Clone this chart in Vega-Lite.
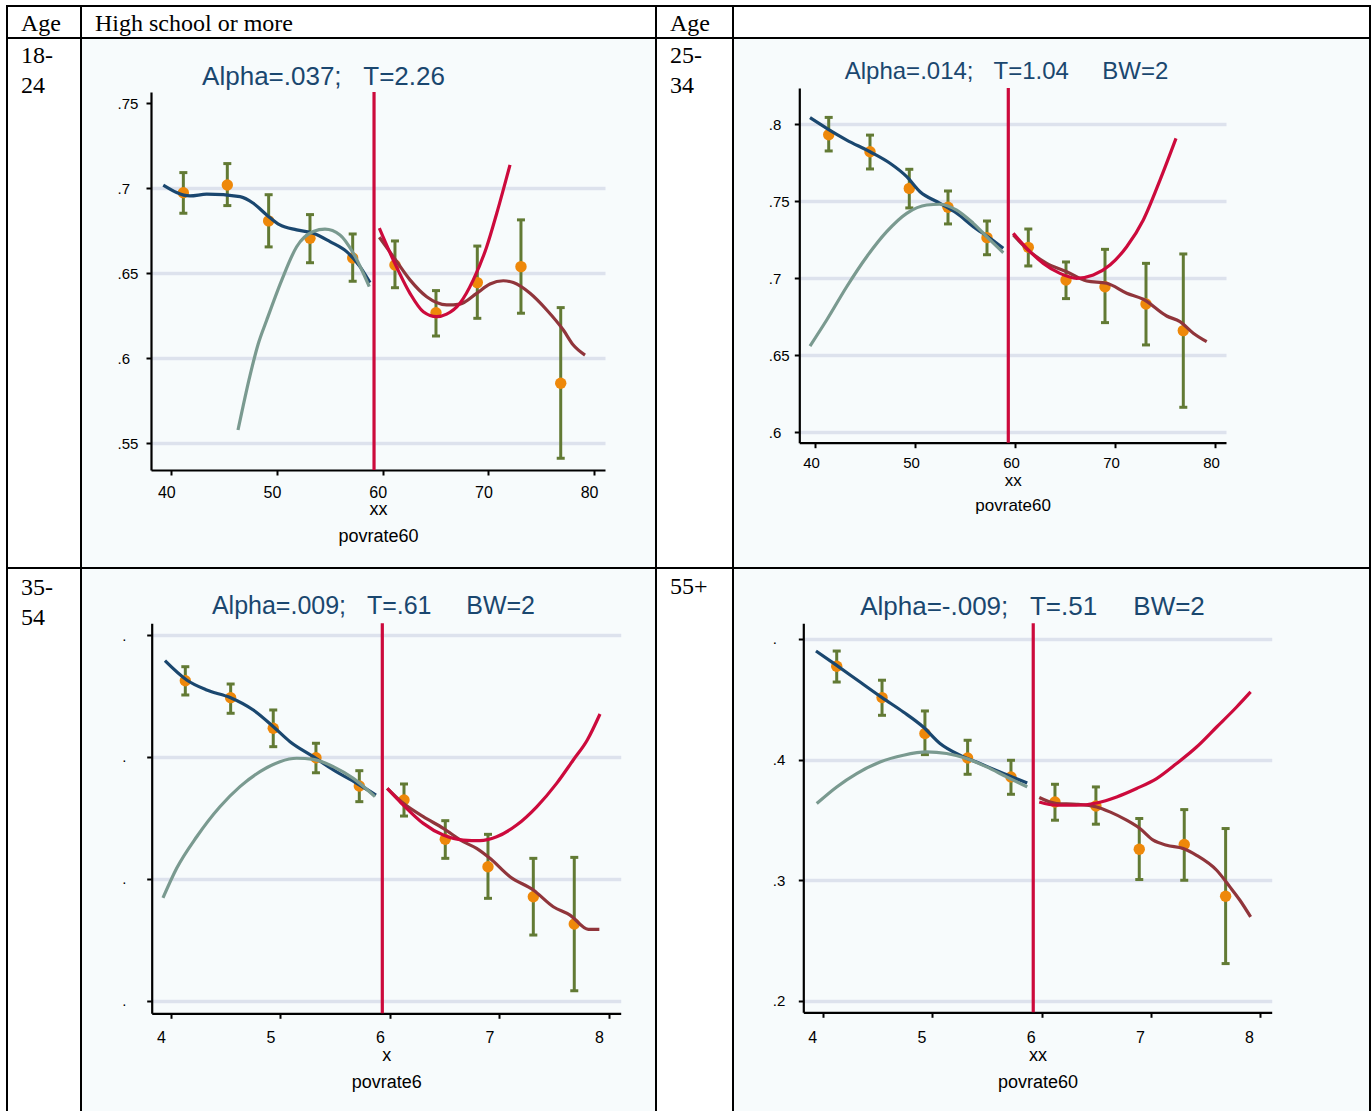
{
  "$schema": "https://vega.github.io/schema/vega-lite/v6.json",
  "background": "white",
  "padding": {"left": 6, "top": 5, "right": 0, "bottom": 0},
  "config": {
    "view": {"stroke": "black", "strokeWidth": 2},
    "axis": {
      "domainColor": "black", "domainWidth": 2.2, "tickColor": "black", "tickWidth": 2, "tickSize": 5,
      "labelFont": "Liberation Sans", "labelColor": "black", "labelFlush": false, "labelOverlap": false, "labelBound": false,
      "titleFont": "Liberation Sans", "titleFontWeight": "normal", "titleColor": "black",
      "grid": false, "gridColor": "#dde2ed", "gridWidth": 3.5, "gridOpacity": 1
    },
    "axisY": {"labelAlign": "left", "labelBaseline": "middle"},
    "title": {"font": "Liberation Serif", "fontWeight": "normal", "color": "black", "fontSize": 24, "anchor": "start", "frame": "group", "orient": "top", "align": "left", "dx": 14, "lineHeight": 30, "baseline": "top"}
  },
  "datasets": {
    "cellpt": [{"u": 0.5}],
    "pts1": [
      {"x": 41.14, "y": 0.6974}, {"x": 45.30, "y": 0.7019}, {"x": 49.21, "y": 0.6808}, {"x": 53.12, "y": 0.6706}, {"x": 57.16, "y": 0.6590},
      {"x": 61.16, "y": 0.6549}, {"x": 65.04, "y": 0.6268}, {"x": 68.95, "y": 0.6445}, {"x": 73.08, "y": 0.6539}, {"x": 76.84, "y": 0.5853}
    ],
    "b1": [
      {"x": 41.14, "y": 0.6853, "y2": 0.7092}, {"x": 45.30, "y": 0.6898, "y2": 0.7145}, {"x": 49.21, "y": 0.6655, "y2": 0.6962},
      {"x": 53.12, "y": 0.6562, "y2": 0.6845}, {"x": 57.16, "y": 0.6453, "y2": 0.6731}, {"x": 61.16, "y": 0.6415, "y2": 0.6690},
      {"x": 65.04, "y": 0.6131, "y2": 0.6398}, {"x": 68.95, "y": 0.6235, "y2": 0.6660}, {"x": 73.08, "y": 0.6265, "y2": 0.6814},
      {"x": 76.84, "y": 0.5412, "y2": 0.6298}
    ],
    "l1": [
      {"s": "navy", "x": 39.24, "y": 0.7019}, {"s": "navy", "x": 41.77, "y": 0.6955}, {"s": "navy", "x": 43.35, "y": 0.6965},
      {"s": "navy", "x": 46.50, "y": 0.6951}, {"s": "navy", "x": 47.76, "y": 0.6912}, {"s": "navy", "x": 49.03, "y": 0.6843},
      {"s": "navy", "x": 50.28, "y": 0.6784}, {"s": "navy", "x": 51.86, "y": 0.6755}, {"s": "navy", "x": 53.43, "y": 0.6735},
      {"s": "navy", "x": 55.01, "y": 0.6686}, {"s": "navy", "x": 56.59, "y": 0.6627}, {"s": "navy", "x": 57.85, "y": 0.6539},
      {"s": "navy", "x": 58.80, "y": 0.6445},
      {"s": "gray", "x": 46.31, "y": 0.5578}, {"s": "gray", "x": 47.45, "y": 0.590}, {"s": "gray", "x": 48.2, "y": 0.608},
      {"s": "gray", "x": 49.03, "y": 0.6225}, {"s": "gray", "x": 50.45, "y": 0.646}, {"s": "gray", "x": 51.86, "y": 0.6656},
      {"s": "gray", "x": 53.43, "y": 0.6745}, {"s": "gray", "x": 54.54, "y": 0.6759}, {"s": "gray", "x": 55.96, "y": 0.6725},
      {"s": "gray", "x": 57.22, "y": 0.6618}, {"s": "gray", "x": 58.73, "y": 0.6421},
      {"s": "maroon", "x": 59.68, "y": 0.6712}, {"s": "maroon", "x": 61.0, "y": 0.6598}, {"s": "maroon", "x": 62.58, "y": 0.6461},
      {"s": "maroon", "x": 64.16, "y": 0.6362}, {"s": "maroon", "x": 66.05, "y": 0.6314}, {"s": "maroon", "x": 67.31, "y": 0.6319},
      {"s": "maroon", "x": 68.89, "y": 0.6382}, {"s": "maroon", "x": 70.15, "y": 0.6437}, {"s": "maroon", "x": 71.41, "y": 0.6456},
      {"s": "maroon", "x": 72.36, "y": 0.6445}, {"s": "maroon", "x": 73.94, "y": 0.6382}, {"s": "maroon", "x": 75.52, "y": 0.6284},
      {"s": "maroon", "x": 77.09, "y": 0.6166}, {"s": "maroon", "x": 78.03, "y": 0.6078}, {"s": "maroon", "x": 79.14, "y": 0.6019},
      {"s": "red", "x": 59.68, "y": 0.6765}, {"s": "red", "x": 61.0, "y": 0.6578}, {"s": "red", "x": 62.58, "y": 0.6382},
      {"s": "red", "x": 63.84, "y": 0.6274}, {"s": "red", "x": 65.11, "y": 0.6245}, {"s": "red", "x": 66.05, "y": 0.626},
      {"s": "red", "x": 67.31, "y": 0.6324}, {"s": "red", "x": 68.57, "y": 0.6461}, {"s": "red", "x": 69.84, "y": 0.6656},
      {"s": "red", "x": 70.79, "y": 0.6853}, {"s": "red", "x": 72.04, "y": 0.7137}
    ],
    "c1": [{"x": 59.18, "y": 0.5343, "y2": 0.7566}],
    "t1": [{"x": 54.4, "y": 0.7608, "t": "Alpha=.037;\u00a0\u00a0\u00a0T=2.26"}],
    "pts2": [
      {"x": 41.37, "y": 0.7932}, {"x": 45.5, "y": 0.7822}, {"x": 49.43, "y": 0.7584}, {"x": 53.3, "y": 0.7461}, {"x": 57.2, "y": 0.7264},
      {"x": 61.33, "y": 0.7201}, {"x": 65.1, "y": 0.6989}, {"x": 69.0, "y": 0.6945}, {"x": 73.1, "y": 0.6833}, {"x": 76.83, "y": 0.666}
    ],
    "b2": [
      {"x": 41.37, "y": 0.7827, "y2": 0.8045}, {"x": 45.5, "y": 0.771, "y2": 0.793}, {"x": 49.43, "y": 0.7457, "y2": 0.7708},
      {"x": 53.3, "y": 0.7353, "y2": 0.7567}, {"x": 57.2, "y": 0.7153, "y2": 0.7372}, {"x": 61.33, "y": 0.708, "y2": 0.732},
      {"x": 65.1, "y": 0.6868, "y2": 0.7106}, {"x": 69.0, "y": 0.6712, "y2": 0.7188}, {"x": 73.1, "y": 0.6567, "y2": 0.7097},
      {"x": 76.83, "y": 0.6162, "y2": 0.7158}
    ],
    "l2": [
      {"s": "navy", "x": 39.5, "y": 0.8043}, {"s": "navy", "x": 41.17, "y": 0.7974}, {"s": "navy", "x": 43.17, "y": 0.7898},
      {"s": "navy", "x": 45.5, "y": 0.7822}, {"s": "navy", "x": 47.5, "y": 0.7747}, {"s": "navy", "x": 49.17, "y": 0.766},
      {"s": "navy", "x": 50.5, "y": 0.7562}, {"s": "navy", "x": 52.5, "y": 0.7487}, {"s": "navy", "x": 54.17, "y": 0.7422},
      {"s": "navy", "x": 55.83, "y": 0.7335}, {"s": "navy", "x": 57.5, "y": 0.726}, {"s": "navy", "x": 58.83, "y": 0.7195},
      {"s": "gray", "x": 39.5, "y": 0.656}, {"s": "gray", "x": 41.17, "y": 0.6729}, {"s": "gray", "x": 43.17, "y": 0.6945},
      {"s": "gray", "x": 45.17, "y": 0.714}, {"s": "gray", "x": 47.17, "y": 0.7303}, {"s": "gray", "x": 49.17, "y": 0.7422},
      {"s": "gray", "x": 51.17, "y": 0.7476}, {"s": "gray", "x": 52.5, "y": 0.7481}, {"s": "gray", "x": 54.17, "y": 0.7443},
      {"s": "gray", "x": 55.83, "y": 0.7357}, {"s": "gray", "x": 57.5, "y": 0.7249}, {"s": "gray", "x": 58.83, "y": 0.7166},
      {"s": "maroon", "x": 59.83, "y": 0.7281}, {"s": "maroon", "x": 61.5, "y": 0.7173}, {"s": "maroon", "x": 63.17, "y": 0.7097},
      {"s": "maroon", "x": 65.17, "y": 0.7043}, {"s": "maroon", "x": 67.17, "y": 0.6982}, {"s": "maroon", "x": 69.17, "y": 0.6968},
      {"s": "maroon", "x": 71.17, "y": 0.6903}, {"s": "maroon", "x": 72.83, "y": 0.6864}, {"s": "maroon", "x": 75.17, "y": 0.6755},
      {"s": "maroon", "x": 76.5, "y": 0.6718}, {"s": "maroon", "x": 77.83, "y": 0.6643}, {"s": "maroon", "x": 79.17, "y": 0.6588},
      {"s": "red", "x": 59.83, "y": 0.7292}, {"s": "red", "x": 61.17, "y": 0.7195}, {"s": "red", "x": 62.83, "y": 0.7097},
      {"s": "red", "x": 64.5, "y": 0.7032}, {"s": "red", "x": 66.17, "y": 0.7}, {"s": "red", "x": 67.83, "y": 0.7021},
      {"s": "red", "x": 69.5, "y": 0.7086}, {"s": "red", "x": 71.17, "y": 0.7205}, {"s": "red", "x": 72.83, "y": 0.7379},
      {"s": "red", "x": 74.5, "y": 0.7638}, {"s": "red", "x": 76.1, "y": 0.7909}
    ],
    "c2": [{"x": 59.33, "y": 0.5932, "y2": 0.8236}],
    "t2": [{"x": 59.15, "y": 0.8292, "t": "Alpha=.014;\u00a0\u00a0\u00a0T=1.04\u00a0\u00a0\u00a0\u00a0\u00a0BW=2"}],
    "pts3": [
      {"x": 4.131, "y": 0.5625}, {"x": 4.545, "y": 0.5486}, {"x": 4.934, "y": 0.5235}, {"x": 5.324, "y": 0.4993}, {"x": 5.72, "y": 0.4761},
      {"x": 6.128, "y": 0.4646}, {"x": 6.505, "y": 0.4324}, {"x": 6.895, "y": 0.4099}, {"x": 7.309, "y": 0.3853}, {"x": 7.683, "y": 0.3629}
    ],
    "b3": [
      {"x": 4.131, "y": 0.5508, "y2": 0.574}, {"x": 4.545, "y": 0.5358, "y2": 0.5598}, {"x": 4.934, "y": 0.5084, "y2": 0.5385},
      {"x": 5.324, "y": 0.487, "y2": 0.5112}, {"x": 5.72, "y": 0.4633, "y2": 0.4887}, {"x": 6.128, "y": 0.4515, "y2": 0.4778},
      {"x": 6.505, "y": 0.4168, "y2": 0.4477}, {"x": 6.895, "y": 0.384, "y2": 0.4365}, {"x": 7.309, "y": 0.3539, "y2": 0.4168},
      {"x": 7.683, "y": 0.3082, "y2": 0.4176}
    ],
    "l3": [
      {"s": "navy", "x": 3.945, "y": 0.5789}, {"s": "navy", "x": 4.143, "y": 0.5631}, {"s": "navy", "x": 4.326, "y": 0.5549},
      {"s": "navy", "x": 4.545, "y": 0.5486}, {"s": "navy", "x": 4.752, "y": 0.5385}, {"s": "navy", "x": 4.935, "y": 0.5248},
      {"s": "navy", "x": 5.087, "y": 0.5125}, {"s": "navy", "x": 5.3, "y": 0.5002}, {"s": "navy", "x": 5.483, "y": 0.4893},
      {"s": "navy", "x": 5.696, "y": 0.4784}, {"s": "navy", "x": 5.872, "y": 0.4687},
      {"s": "gray", "x": 3.927, "y": 0.3843}, {"s": "gray", "x": 4.052, "y": 0.4086}, {"s": "gray", "x": 4.235, "y": 0.4345},
      {"s": "gray", "x": 4.447, "y": 0.4591}, {"s": "gray", "x": 4.63, "y": 0.4756}, {"s": "gray", "x": 4.813, "y": 0.4879},
      {"s": "gray", "x": 4.995, "y": 0.4961}, {"s": "gray", "x": 5.148, "y": 0.4989}, {"s": "gray", "x": 5.3, "y": 0.498},
      {"s": "gray", "x": 5.482, "y": 0.492}, {"s": "gray", "x": 5.665, "y": 0.4824}, {"s": "gray", "x": 5.863, "y": 0.4674},
      {"s": "maroon", "x": 5.975, "y": 0.4742}, {"s": "maroon", "x": 6.122, "y": 0.4619}, {"s": "maroon", "x": 6.304, "y": 0.451},
      {"s": "maroon", "x": 6.487, "y": 0.4414}, {"s": "maroon", "x": 6.669, "y": 0.4305}, {"s": "maroon", "x": 6.791, "y": 0.425},
      {"s": "maroon", "x": 6.913, "y": 0.4168}, {"s": "maroon", "x": 7.096, "y": 0.4017}, {"s": "maroon", "x": 7.309, "y": 0.3908},
      {"s": "maroon", "x": 7.491, "y": 0.3771}, {"s": "maroon", "x": 7.644, "y": 0.3703}, {"s": "maroon", "x": 7.811, "y": 0.3586},
      {"s": "maroon", "x": 7.912, "y": 0.3586},
      {"s": "red", "x": 5.975, "y": 0.4742}, {"s": "red", "x": 6.122, "y": 0.4605}, {"s": "red", "x": 6.304, "y": 0.4455},
      {"s": "red", "x": 6.487, "y": 0.4359}, {"s": "red", "x": 6.669, "y": 0.4318}, {"s": "red", "x": 6.822, "y": 0.4313},
      {"s": "red", "x": 6.974, "y": 0.4345}, {"s": "red", "x": 7.157, "y": 0.4441}, {"s": "red", "x": 7.34, "y": 0.4591},
      {"s": "red", "x": 7.522, "y": 0.4783}, {"s": "red", "x": 7.674, "y": 0.4975}, {"s": "red", "x": 7.802, "y": 0.5139},
      {"s": "red", "x": 7.918, "y": 0.5352}
    ],
    "c3": [{"x": 5.93, "y": 0.2897, "y2": 0.6096}],
    "t3": [{"x": 5.849, "y": 0.6172, "t": "Alpha=.009;\u00a0\u00a0\u00a0T=.61\u00a0\u00a0\u00a0\u00a0\u00a0BW=2"}],
    "pts4": [
      {"x": 4.123, "y": 0.4774}, {"x": 4.538, "y": 0.4514}, {"x": 4.931, "y": 0.4216}, {"x": 5.322, "y": 0.4013}, {"x": 5.719, "y": 0.3856},
      {"x": 6.122, "y": 0.3648}, {"x": 6.497, "y": 0.3615}, {"x": 6.894, "y": 0.3256}, {"x": 7.306, "y": 0.3295}, {"x": 7.685, "y": 0.2867}
    ],
    "b4": [
      {"x": 4.123, "y": 0.4643, "y2": 0.49}, {"x": 4.538, "y": 0.4367, "y2": 0.4658}, {"x": 4.931, "y": 0.4041, "y2": 0.4403},
      {"x": 5.322, "y": 0.3878, "y2": 0.416}, {"x": 5.719, "y": 0.3712, "y2": 0.3994}, {"x": 6.122, "y": 0.3497, "y2": 0.3795},
      {"x": 6.497, "y": 0.3464, "y2": 0.3773}, {"x": 6.894, "y": 0.3005, "y2": 0.3511}, {"x": 7.306, "y": 0.2999, "y2": 0.3585},
      {"x": 7.685, "y": 0.2308, "y2": 0.3428}
    ],
    "l4": [
      {"s": "navy", "x": 3.933, "y": 0.49}, {"s": "navy", "x": 4.123, "y": 0.4781}, {"s": "navy", "x": 4.337, "y": 0.4643},
      {"s": "navy", "x": 4.538, "y": 0.4514}, {"s": "navy", "x": 4.733, "y": 0.4395}, {"s": "navy", "x": 4.916, "y": 0.427},
      {"s": "navy", "x": 5.069, "y": 0.4133}, {"s": "navy", "x": 5.252, "y": 0.4036}, {"s": "navy", "x": 5.435, "y": 0.3967},
      {"s": "navy", "x": 5.618, "y": 0.3897}, {"s": "navy", "x": 5.868, "y": 0.3806},
      {"s": "gray", "x": 3.94, "y": 0.3635}, {"s": "gray", "x": 4.123, "y": 0.3773}, {"s": "gray", "x": 4.306, "y": 0.3884},
      {"s": "gray", "x": 4.52, "y": 0.398}, {"s": "gray", "x": 4.734, "y": 0.4036}, {"s": "gray", "x": 4.947, "y": 0.4063},
      {"s": "gray", "x": 5.13, "y": 0.405}, {"s": "gray", "x": 5.313, "y": 0.4008}, {"s": "gray", "x": 5.496, "y": 0.3939},
      {"s": "gray", "x": 5.679, "y": 0.3856}, {"s": "gray", "x": 5.868, "y": 0.3773},
      {"s": "maroon", "x": 5.978, "y": 0.3685}, {"s": "maroon", "x": 6.137, "y": 0.3635}, {"s": "maroon", "x": 6.32, "y": 0.3629},
      {"s": "maroon", "x": 6.504, "y": 0.3607}, {"s": "maroon", "x": 6.625, "y": 0.3566}, {"s": "maroon", "x": 6.778, "y": 0.3497},
      {"s": "maroon", "x": 6.9, "y": 0.3428}, {"s": "maroon", "x": 7.022, "y": 0.3331}, {"s": "maroon", "x": 7.145, "y": 0.329},
      {"s": "maroon", "x": 7.297, "y": 0.3262}, {"s": "maroon", "x": 7.419, "y": 0.3206}, {"s": "maroon", "x": 7.603, "y": 0.3082},
      {"s": "maroon", "x": 7.724, "y": 0.2944}, {"s": "maroon", "x": 7.816, "y": 0.2833}, {"s": "maroon", "x": 7.914, "y": 0.2695},
      {"s": "red", "x": 5.978, "y": 0.3648}, {"s": "red", "x": 6.137, "y": 0.3621}, {"s": "red", "x": 6.32, "y": 0.3621},
      {"s": "red", "x": 6.504, "y": 0.364}, {"s": "red", "x": 6.687, "y": 0.369}, {"s": "red", "x": 6.87, "y": 0.376},
      {"s": "red", "x": 7.053, "y": 0.3842}, {"s": "red", "x": 7.236, "y": 0.3967}, {"s": "red", "x": 7.419, "y": 0.4104},
      {"s": "red", "x": 7.603, "y": 0.427}, {"s": "red", "x": 7.786, "y": 0.4436}, {"s": "red", "x": 7.914, "y": 0.4561}
    ],
    "c4": [{"x": 5.923, "y": 0.1904, "y2": 0.513}],
    "t4": [{"x": 5.916, "y": 0.5197, "t": "Alpha=-.009;\u00a0\u00a0\u00a0T=.51\u00a0\u00a0\u00a0\u00a0\u00a0BW=2"}]
  },
  "columns": 4,
  "spacing": 0,
  "bounds": "flush",
  "align": "each",
  "concat": [
    {"width": 74, "height": 32, "data": {"name": "cellpt"}, "mark": {"type": "point", "opacity": 0},
     "encoding": {"x": {"field": "u", "type": "quantitative", "scale": {"domain": [0, 1]}, "axis": null}, "y": {"field": "u", "type": "quantitative", "scale": {"domain": [0, 1]}, "axis": null}},
     "view": {"stroke": "black", "strokeWidth": 2, "fill": "white"},
     "title": {"text": "Age", "offset": -29.8}},
    {"width": 575, "height": 32, "data": {"name": "cellpt"}, "mark": {"type": "point", "opacity": 0},
     "encoding": {"x": {"field": "u", "type": "quantitative", "scale": {"domain": [0, 1]}, "axis": null}, "y": {"field": "u", "type": "quantitative", "scale": {"domain": [0, 1]}, "axis": null}},
     "view": {"stroke": "black", "strokeWidth": 2, "fill": "white"},
     "title": {"text": "High school or more", "offset": -29.8}},
    {"width": 77, "height": 32, "data": {"name": "cellpt"}, "mark": {"type": "point", "opacity": 0},
     "encoding": {"x": {"field": "u", "type": "quantitative", "scale": {"domain": [0, 1]}, "axis": null}, "y": {"field": "u", "type": "quantitative", "scale": {"domain": [0, 1]}, "axis": null}},
     "view": {"stroke": "black", "strokeWidth": 2, "fill": "white"},
     "title": {"text": "Age", "offset": -29.8}},
    {"width": 637, "height": 32, "data": {"name": "cellpt"}, "mark": {"type": "point", "opacity": 0},
     "encoding": {"x": {"field": "u", "type": "quantitative", "scale": {"domain": [0, 1]}, "axis": null}, "y": {"field": "u", "type": "quantitative", "scale": {"domain": [0, 1]}, "axis": null}},
     "view": {"stroke": "black", "strokeWidth": 2, "fill": "white"}},

    {"width": 74, "height": 530, "data": {"name": "cellpt"}, "mark": {"type": "point", "opacity": 0},
     "encoding": {"x": {"field": "u", "type": "quantitative", "scale": {"domain": [0, 1]}, "axis": null}, "y": {"field": "u", "type": "quantitative", "scale": {"domain": [0, 1]}, "axis": null}},
     "view": {"stroke": "black", "strokeWidth": 2, "fill": "white"},
     "title": {"text": ["18-", "24"], "offset": -59.6}},
    {
      "width": 575, "height": 530,
      "view": {"fill": "#f7fbfc", "stroke": "black", "strokeWidth": 2},
      "encoding": {
        "x": {"field": "x", "type": "quantitative", "scale": {"domain": [38.08, 81.03], "range": [70, 524], "nice": false, "zero": false},
              "axis": {"offset": -98, "values": [40, 50, 60, 70, 80], "labelOffset": -5, "labelPadding": 9, "labelFontSize": 16, "title": ["xx", "povrate60"], "titleFontSize": 18, "titleLineHeight": 27, "titlePadding": 0}},
        "y": {"field": "y", "type": "quantitative", "scale": {"domain": [0.5343, 0.7566], "range": [432, 54], "nice": false, "zero": false},
              "axis": {"offset": -70, "values": [0.55, 0.6, 0.65, 0.7, 0.75], "labelExpr": "substring(toString(datum.value), 1)", "labelPadding": 29, "labelFontSize": 15, "title": null, "grid": true, "gridOpacity": {"condition": {"test": "datum.value > 0.74", "value": 0}, "value": 1}}}
      },
      "layer": [
        {"data": {"name": "b1"}, "mark": {"type": "rule", "color": "#627a34", "strokeWidth": 3}, "encoding": {"y2": {"field": "y2"}}},
        {"data": {"name": "b1"}, "transform": [{"fold": ["y", "y2"], "as": ["k", "y"]}], "mark": {"type": "tick", "orient": "horizontal", "size": 8, "thickness": 3, "color": "#627a34", "opacity": 1}},
        {"data": {"name": "pts1"}, "mark": {"type": "circle", "size": 130, "color": "#ee880a", "opacity": 1}},
        {"data": {"name": "l1"}, "transform": [{"filter": "datum.s == 'navy'"}], "mark": {"type": "line", "color": "#1a476f", "strokeWidth": 3.2, "interpolate": "monotone"}},
        {"data": {"name": "l1"}, "transform": [{"filter": "datum.s == 'gray'"}], "mark": {"type": "line", "color": "#7a9a90", "strokeWidth": 3.2, "interpolate": "monotone"}},
        {"data": {"name": "l1"}, "transform": [{"filter": "datum.s == 'maroon'"}], "mark": {"type": "line", "color": "#90353b", "strokeWidth": 3.2, "interpolate": "monotone"}},
        {"data": {"name": "l1"}, "transform": [{"filter": "datum.s == 'red'"}], "mark": {"type": "line", "color": "#cc0a3c", "strokeWidth": 3.2, "interpolate": "monotone"}},
        {"data": {"name": "c1"}, "mark": {"type": "rule", "color": "#cc0a3c", "strokeWidth": 3.2}, "encoding": {"y2": {"field": "y2"}}},
        {"data": {"name": "t1"}, "mark": {"type": "text", "font": "Liberation Sans", "fontSize": 26, "color": "#1a476f", "align": "center", "baseline": "alphabetic"}, "encoding": {"text": {"field": "t"}}}
      ]
    },
    {"width": 77, "height": 530, "data": {"name": "cellpt"}, "mark": {"type": "point", "opacity": 0},
     "encoding": {"x": {"field": "u", "type": "quantitative", "scale": {"domain": [0, 1]}, "axis": null}, "y": {"field": "u", "type": "quantitative", "scale": {"domain": [0, 1]}, "axis": null}},
     "view": {"stroke": "black", "strokeWidth": 2, "fill": "white"},
     "title": {"text": ["25-", "34"], "offset": -59.6}},
    {
      "width": 637, "height": 530,
      "view": {"fill": "#f7fbfc", "stroke": "black", "strokeWidth": 2},
      "encoding": {
        "x": {"field": "x", "type": "quantitative", "scale": {"domain": [38.43, 81.1], "range": [66.3, 493], "nice": false, "zero": false},
              "axis": {"offset": -125.3, "values": [40, 50, 60, 70, 80], "labelOffset": -4, "labelPadding": 8, "labelFontSize": 15, "title": ["xx", "povrate60"], "titleFontSize": 17, "titleLineHeight": 25, "titlePadding": 2}},
        "y": {"field": "y", "type": "quantitative", "scale": {"domain": [0.5932, 0.8236], "range": [404.7, 50], "nice": false, "zero": false},
              "axis": {"offset": -66.3, "values": [0.6, 0.65, 0.7, 0.75, 0.8], "labelExpr": "substring(toString(datum.value), 1)", "labelPadding": 26, "labelFontSize": 15, "title": null, "grid": true}}
      },
      "layer": [
        {"data": {"name": "b2"}, "mark": {"type": "rule", "color": "#627a34", "strokeWidth": 3}, "encoding": {"y2": {"field": "y2"}}},
        {"data": {"name": "b2"}, "transform": [{"fold": ["y", "y2"], "as": ["k", "y"]}], "mark": {"type": "tick", "orient": "horizontal", "size": 8, "thickness": 3, "color": "#627a34", "opacity": 1}},
        {"data": {"name": "pts2"}, "mark": {"type": "circle", "size": 130, "color": "#ee880a", "opacity": 1}},
        {"data": {"name": "l2"}, "transform": [{"filter": "datum.s == 'navy'"}], "mark": {"type": "line", "color": "#1a476f", "strokeWidth": 3.2, "interpolate": "monotone"}},
        {"data": {"name": "l2"}, "transform": [{"filter": "datum.s == 'gray'"}], "mark": {"type": "line", "color": "#7a9a90", "strokeWidth": 3.2, "interpolate": "monotone"}},
        {"data": {"name": "l2"}, "transform": [{"filter": "datum.s == 'maroon'"}], "mark": {"type": "line", "color": "#90353b", "strokeWidth": 3.2, "interpolate": "monotone"}},
        {"data": {"name": "l2"}, "transform": [{"filter": "datum.s == 'red'"}], "mark": {"type": "line", "color": "#cc0a3c", "strokeWidth": 3.2, "interpolate": "monotone"}},
        {"data": {"name": "c2"}, "mark": {"type": "rule", "color": "#cc0a3c", "strokeWidth": 3.2}, "encoding": {"y2": {"field": "y2"}}},
        {"data": {"name": "t2"}, "mark": {"type": "text", "font": "Liberation Sans", "fontSize": 24, "color": "#1a476f", "align": "center", "baseline": "alphabetic"}, "encoding": {"text": {"field": "t"}}}
      ]
    },

    {"width": 74, "height": 545, "data": {"name": "cellpt"}, "mark": {"type": "point", "opacity": 0},
     "encoding": {"x": {"field": "u", "type": "quantitative", "scale": {"domain": [0, 1]}, "axis": null}, "y": {"field": "u", "type": "quantitative", "scale": {"domain": [0, 1]}, "axis": null}},
     "view": {"stroke": "black", "strokeWidth": 2, "fill": "white"},
     "title": {"text": ["35-", "54"], "offset": -62.1}},
    {
      "width": 575, "height": 545,
      "view": {"fill": "#f7fbfc", "stroke": "black", "strokeWidth": 2},
      "encoding": {
        "x": {"field": "x", "type": "quantitative", "scale": {"domain": [3.824, 8.107], "range": [70.7, 539.7], "nice": false, "zero": false},
              "axis": {"offset": -99.7, "values": [4, 5, 6, 7, 8], "labelOffset": -10, "labelPadding": 11, "labelFontSize": 16, "title": ["x", "povrate6"], "titleFontSize": 18, "titleLineHeight": 27, "titlePadding": 1}},
        "y": {"field": "y", "type": "quantitative", "scale": {"domain": [0.2897, 0.6096], "range": [445.3, 55.3], "nice": false, "zero": false},
              "axis": {"offset": -70.7, "values": [0.3, 0.4, 0.5, 0.6], "labelExpr": "'.'", "labelPadding": 25, "labelFontSize": 15, "title": null, "grid": true}}
      },
      "layer": [
        {"data": {"name": "b3"}, "mark": {"type": "rule", "color": "#627a34", "strokeWidth": 3}, "encoding": {"y2": {"field": "y2"}}},
        {"data": {"name": "b3"}, "transform": [{"fold": ["y", "y2"], "as": ["k", "y"]}], "mark": {"type": "tick", "orient": "horizontal", "size": 8, "thickness": 3, "color": "#627a34", "opacity": 1}},
        {"data": {"name": "pts3"}, "mark": {"type": "circle", "size": 130, "color": "#ee880a", "opacity": 1}},
        {"data": {"name": "l3"}, "transform": [{"filter": "datum.s == 'navy'"}], "mark": {"type": "line", "color": "#1a476f", "strokeWidth": 3.2, "interpolate": "monotone"}},
        {"data": {"name": "l3"}, "transform": [{"filter": "datum.s == 'gray'"}], "mark": {"type": "line", "color": "#7a9a90", "strokeWidth": 3.2, "interpolate": "monotone"}},
        {"data": {"name": "l3"}, "transform": [{"filter": "datum.s == 'maroon'"}], "mark": {"type": "line", "color": "#90353b", "strokeWidth": 3.2, "interpolate": "monotone"}},
        {"data": {"name": "l3"}, "transform": [{"filter": "datum.s == 'red'"}], "mark": {"type": "line", "color": "#cc0a3c", "strokeWidth": 3.2, "interpolate": "monotone"}},
        {"data": {"name": "c3"}, "mark": {"type": "rule", "color": "#cc0a3c", "strokeWidth": 3.2}, "encoding": {"y2": {"field": "y2"}}},
        {"data": {"name": "t3"}, "mark": {"type": "text", "font": "Liberation Sans", "fontSize": 25, "color": "#1a476f", "align": "center", "baseline": "alphabetic"}, "encoding": {"text": {"field": "t"}}}
      ]
    },
    {"width": 77, "height": 545, "data": {"name": "cellpt"}, "mark": {"type": "point", "opacity": 0},
     "encoding": {"x": {"field": "u", "type": "quantitative", "scale": {"domain": [0, 1]}, "axis": null}, "y": {"field": "u", "type": "quantitative", "scale": {"domain": [0, 1]}, "axis": null}},
     "view": {"stroke": "black", "strokeWidth": 2, "fill": "white"},
     "title": {"text": "55+", "offset": -31.1}},
    {
      "width": 637, "height": 545,
      "view": {"fill": "#f7fbfc", "stroke": "black", "strokeWidth": 2},
      "encoding": {
        "x": {"field": "x", "type": "quantitative", "scale": {"domain": [3.817, 8.107], "range": [70.3, 538.7], "nice": false, "zero": false},
              "axis": {"offset": -100.7, "values": [4, 5, 6, 7, 8], "labelOffset": -11, "labelPadding": 12, "labelFontSize": 16, "title": ["xx", "povrate60"], "titleFontSize": 18, "titleLineHeight": 27, "titlePadding": 1}},
        "y": {"field": "y", "type": "quantitative", "scale": {"domain": [0.1904, 0.513], "range": [444.3, 55.3], "nice": false, "zero": false},
              "axis": {"offset": -70.3, "values": [0.2, 0.3, 0.4, 0.5], "labelExpr": "datum.value > 0.45 ? '.' : substring(toString(datum.value), 1)", "labelPadding": 26, "labelFontSize": 15, "title": null, "grid": true}}
      },
      "layer": [
        {"data": {"name": "b4"}, "mark": {"type": "rule", "color": "#627a34", "strokeWidth": 3}, "encoding": {"y2": {"field": "y2"}}},
        {"data": {"name": "b4"}, "transform": [{"fold": ["y", "y2"], "as": ["k", "y"]}], "mark": {"type": "tick", "orient": "horizontal", "size": 8, "thickness": 3, "color": "#627a34", "opacity": 1}},
        {"data": {"name": "pts4"}, "mark": {"type": "circle", "size": 130, "color": "#ee880a", "opacity": 1}},
        {"data": {"name": "l4"}, "transform": [{"filter": "datum.s == 'navy'"}], "mark": {"type": "line", "color": "#1a476f", "strokeWidth": 3.2, "interpolate": "monotone"}},
        {"data": {"name": "l4"}, "transform": [{"filter": "datum.s == 'gray'"}], "mark": {"type": "line", "color": "#7a9a90", "strokeWidth": 3.2, "interpolate": "monotone"}},
        {"data": {"name": "l4"}, "transform": [{"filter": "datum.s == 'maroon'"}], "mark": {"type": "line", "color": "#90353b", "strokeWidth": 3.2, "interpolate": "monotone"}},
        {"data": {"name": "l4"}, "transform": [{"filter": "datum.s == 'red'"}], "mark": {"type": "line", "color": "#cc0a3c", "strokeWidth": 3.2, "interpolate": "monotone"}},
        {"data": {"name": "c4"}, "mark": {"type": "rule", "color": "#cc0a3c", "strokeWidth": 3.2}, "encoding": {"y2": {"field": "y2"}}},
        {"data": {"name": "t4"}, "mark": {"type": "text", "font": "Liberation Sans", "fontSize": 26, "color": "#1a476f", "align": "center", "baseline": "alphabetic"}, "encoding": {"text": {"field": "t"}}}
      ]
    }
  ]
}
